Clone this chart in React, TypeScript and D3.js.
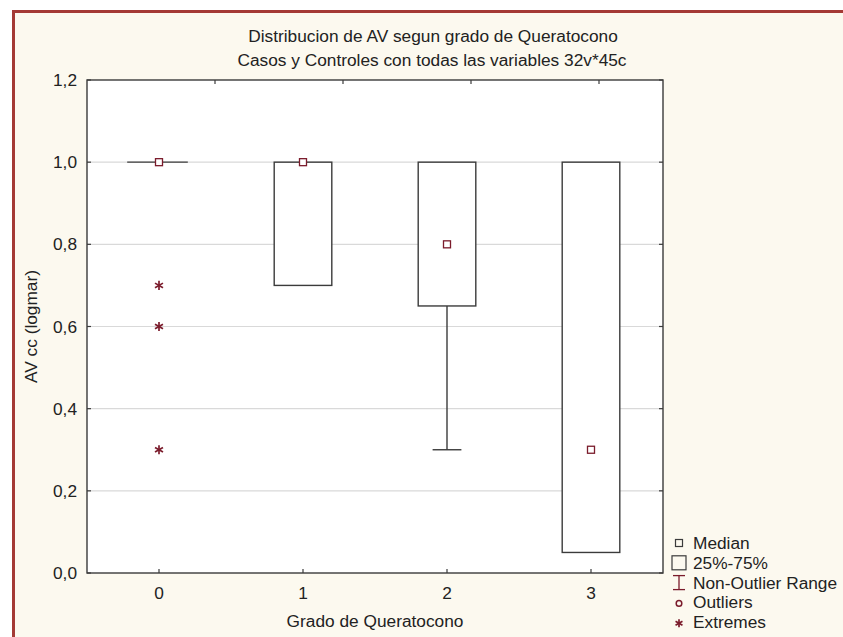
import React from "react";
import * as d3 from "d3";

// Grado de Queratocono groups and their box-plot statistics (AV cc, logmar)
const groups = ["0", "1", "2", "3"];
const medians = [1.0, 1.0, 0.8, 0.3];
const q25 = [1.0, 0.7, 0.65, 0.05];
const q75 = [1.0, 1.0, 1.0, 1.0];
const whiskerLow = [1.0, 0.7, 0.3, 0.05];
const whiskerHigh = [1.0, 1.0, 1.0, 1.0];
const extremes: number[][] = [[0.7, 0.6, 0.3], [], [], []];
const yTicks = [0, 0.2, 0.4, 0.6, 0.8, 1.0, 1.2];
const legendItems = ["Median", "25%-75%", "Non-Outlier Range", "Outliers", "Extremes"];

const W = 843;
const H = 637;
const plot = { left: 87, right: 663, top: 80, bottom: 573 };

const FONT = "'Liberation Sans', Arial, sans-serif";
const TEXT = "#222";
const LINE = "#3b3b3b";
const MARK = "#7b1c2c";
const FRAME = "#a43a35";
const BG = "#fcf9ef";

const fmt = (v: number) => d3.format(".1f")(v).replace(".", ",");

function T({ x, y, size = 17.3, anchor = "middle", children, rotate = 0 }: any) {
  const tr = rotate ? `translate(${x},${y}) rotate(${rotate})` : `translate(${x},${y})`;
  return (
    <text
      transform={tr}
      fontFamily={FONT}
      fontSize={size}
      fill={TEXT}
      textAnchor={anchor}
      dominantBaseline="central"
    >
      {children}
    </text>
  );
}

function Asterisk({ cx, cy, r = 4.6, color = MARK, sw = 1.7 }: any) {
  const angles = [90, 30, 150];
  return (
    <g stroke={color} strokeWidth={sw}>
      {angles.map((a) => {
        const rad = (a * Math.PI) / 180;
        const dx = r * Math.cos(rad);
        const dy = r * Math.sin(rad);
        return <line key={a} x1={cx - dx} y1={cy - dy} x2={cx + dx} y2={cy + dy} />;
      })}
    </g>
  );
}

export default function App() {
  const x = d3.scaleLinear().domain([-0.5, 3.5]).range([plot.left, plot.right]);
  const y = d3.scaleLinear().domain([0, 1.2]).range([plot.bottom, plot.top]);
  // top edge carries its own evenly spaced marks
  const xTop = d3.scaleLinear().domain([0, 4.5]).range([plot.left, plot.right]);

  const boxHalf = (x(0.4) - x(0)) / 2;
  const capHalf = (x(0.2) - x(0)) / 2;
  const tick = 4;

  const legendX = 672;
  const legendY0 = 543;
  const legendDy = 19.8;

  return (
    <svg
      width={W}
      height={H}
      style={{ position: "absolute", left: 0, top: 0, display: "block" }}
    >
      <rect x={0} y={0} width={W} height={H} fill="#ffffff" />
      <rect x={13.5} y={11.5} width={W + 10} height={H + 10} fill={BG} stroke={FRAME} strokeWidth={3} />

      {/* title */}
      <T x={433} y={36}>Distribucion de AV segun grado de Queratocono</T>
      <T x={432} y={60}>Casos y Controles con todas las variables 32v*45c</T>

      {/* plot area */}
      <rect
        x={plot.left}
        y={plot.top}
        width={plot.right - plot.left}
        height={plot.bottom - plot.top}
        fill="#ffffff"
      />
      {yTicks
        .filter((v) => v > 0 && v < 1.2)
        .map((v) => (
          <line
            key={`g${v}`}
            x1={plot.left}
            x2={plot.right}
            y1={y(v)}
            y2={y(v)}
            stroke="#d9d9d9"
            strokeWidth={1.2}
          />
        ))}

      {/* boxes */}
      {groups.map((g, i) => {
        const cx = x(i);
        const flat = q25[i] === q75[i];
        return (
          <g key={g}>
            {whiskerLow[i] < q25[i] && (
              <g stroke={LINE} strokeWidth={1.4}>
                <line x1={cx} x2={cx} y1={y(q25[i])} y2={y(whiskerLow[i])} />
                <line x1={cx - capHalf} x2={cx + capHalf} y1={y(whiskerLow[i])} y2={y(whiskerLow[i])} />
              </g>
            )}
            {whiskerHigh[i] > q75[i] && (
              <g stroke={LINE} strokeWidth={1.4}>
                <line x1={cx} x2={cx} y1={y(q75[i])} y2={y(whiskerHigh[i])} />
                <line x1={cx - capHalf} x2={cx + capHalf} y1={y(whiskerHigh[i])} y2={y(whiskerHigh[i])} />
              </g>
            )}
            {flat ? (
              <line
                x1={cx - boxHalf - 3}
                x2={cx + boxHalf}
                y1={y(q75[i])}
                y2={y(q75[i])}
                stroke={LINE}
                strokeWidth={1.4}
              />
            ) : (
              <rect
                x={cx - boxHalf}
                y={y(q75[i])}
                width={boxHalf * 2}
                height={y(q25[i]) - y(q75[i])}
                fill="#ffffff"
                stroke={LINE}
                strokeWidth={1.4}
              />
            )}
            <rect
              x={cx - 3.5}
              y={y(medians[i]) - 3.5}
              width={7}
              height={7}
              fill="#ffffff"
              stroke={MARK}
              strokeWidth={1.3}
            />
            {extremes[i].map((v, k) => (
              <Asterisk key={k} cx={cx} cy={y(v)} />
            ))}
          </g>
        );
      })}

      {/* frame of plot and ticks */}
      <rect
        x={plot.left}
        y={plot.top}
        width={plot.right - plot.left}
        height={plot.bottom - plot.top}
        fill="none"
        stroke={LINE}
        strokeWidth={1.4}
      />
      {yTicks.map((v) => (
        <g key={`t${v}`} stroke={LINE} strokeWidth={1.2}>
          <line x1={plot.left} x2={plot.left + tick} y1={y(v)} y2={y(v)} />
          <line x1={plot.right} x2={plot.right - tick} y1={y(v)} y2={y(v)} />
        </g>
      ))}
      {groups.map((g, i) => (
        <line key={`xt${g}`} x1={x(i)} x2={x(i)} y1={plot.bottom} y2={plot.bottom - tick} stroke={LINE} strokeWidth={1.2} />
      ))}
      {xTop.ticks(4).filter((t) => t > 0 && t < 4.5).map((t) => (
        <line key={`tt${t}`} x1={xTop(t)} x2={xTop(t)} y1={plot.top} y2={plot.top + tick} stroke={LINE} strokeWidth={1.2} />
      ))}

      {/* tick labels */}
      {yTicks.map((v) => (
        <T key={`yl${v}`} x={77} y={y(v)} anchor="end">
          {fmt(v)}
        </T>
      ))}
      {groups.map((g, i) => (
        <T key={`xl${g}`} x={x(i)} y={593}>
          {g}
        </T>
      ))}

      {/* axis titles */}
      <T x={375} y={621}>Grado de Queratocono</T>
      <T x={31} y={(plot.top + plot.bottom) / 2} rotate={-90}>AV cc (logmar)</T>

      {/* legend */}
      {legendItems.map((name, k) => {
        const cy = legendY0 + k * legendDy;
        const sx = legendX + 7;
        let sym: any = null;
        if (k === 0)
          sym = <rect x={sx - 3.5} y={cy - 3.5} width={7} height={7} fill="none" stroke={LINE} strokeWidth={1.2} />;
        if (k === 1)
          sym = <rect x={sx - 7} y={cy - 7} width={14} height={14} fill="none" stroke={LINE} strokeWidth={1.2} />;
        if (k === 2)
          sym = (
            <g stroke={MARK} strokeWidth={1.3}>
              <line x1={sx - 6} x2={sx + 6} y1={cy - 7} y2={cy - 7} />
              <line x1={sx} x2={sx} y1={cy - 7} y2={cy + 7} />
              <line x1={sx - 6} x2={sx + 6} y1={cy + 7} y2={cy + 7} />
            </g>
          );
        if (k === 3) sym = <circle cx={sx} cy={cy + 1} r={2.8} fill="none" stroke={MARK} strokeWidth={1.5} />;
        if (k === 4) sym = <Asterisk cx={sx} cy={cy + 1} r={4} />;
        return (
          <g key={name}>
            {sym}
            <T x={693} y={cy} anchor="start">
              {name}
            </T>
          </g>
        );
      })}
    </svg>
  );
}
